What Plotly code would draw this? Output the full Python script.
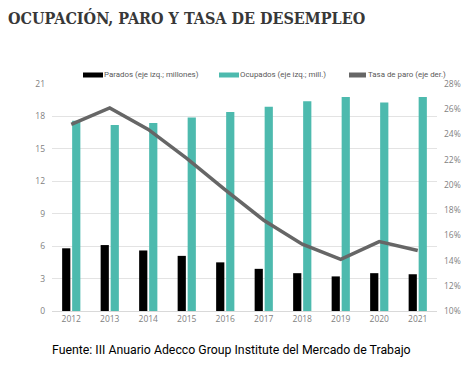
import plotly.graph_objects as go

years = ["2012", "2013", "2014", "2015", "2016", "2017", "2018", "2019", "2020", "2021"]
parados = [5.8, 6.1, 5.6, 5.1, 4.5, 3.9, 3.5, 3.2, 3.5, 3.4]
ocupados = [17.6, 17.2, 17.4, 17.9, 18.4, 18.9, 19.4, 19.8, 19.3, 19.8]
tasa = [24.8, 26.1, 24.4, 22.1, 19.6, 17.2, 15.3, 14.1, 15.5, 14.8]
names = ["Parados (eje izq.; millones)", "Ocupados (eje izq.; mill.)", "Tasa de paro (eje der.)"]

title = "OCUPACIÓN, PARO Y TASA DE DESEMPLEO"
source = "Fuente: III Anuario Adecco Group Institute del Mercado de Trabajo"

BLACK, TEAL, GREY = "#000000", "#4DBAAE", "#666666"

fig = go.Figure()
fig.add_trace(go.Bar(x=years, y=parados, name=names[0],
                     marker=dict(color=BLACK, line=dict(width=0))))
fig.add_trace(go.Bar(x=years, y=ocupados, name=names[1],
                     marker=dict(color=TEAL, line=dict(width=0))))
fig.add_trace(go.Scatter(x=years, y=tasa, name=names[2], yaxis="y2",
                         mode="lines", line=dict(color=GREY, width=3.5)))

tickfont = dict(family="Open Sans, sans-serif", size=8.5, color="#7f7f7f")

# page is offset by the 8px body margin; plot area on page: x 52..437, y 84..311
OFF = 8
PL, PT, PW, PH = 52, 84, 385, 227
LY = 75  # legend row centre (page px)


def px(x):
    return (x - PL) / PW


def py(y):
    return (PT + PH - y) / PH


legfont = dict(family="Roboto, sans-serif", size=7.9, color="#595959")
shapes = [
    dict(type="rect", xref="paper", yref="paper", x0=px(83), x1=px(103), y0=py(LY + 2.5), y1=py(LY - 2.5),
         fillcolor=BLACK, line=dict(width=0)),
    dict(type="rect", xref="paper", yref="paper", x0=px(219), x1=px(239), y0=py(LY + 2.5), y1=py(LY - 2.5),
         fillcolor=TEAL, line=dict(width=0)),
    dict(type="line", xref="paper", yref="paper", x0=px(349), x1=px(366), y0=py(LY), y1=py(LY),
         line=dict(color=GREY, width=5)),
]
annotations = [
    dict(text=names[0], x=px(104), y=py(LY), xref="paper", yref="paper", showarrow=False,
         xanchor="left", yanchor="middle", font=legfont, xshift=-2),
    dict(text=names[1], x=px(240), y=py(LY), xref="paper", yref="paper", showarrow=False,
         xanchor="left", yanchor="middle", font=legfont, xshift=-2),
    dict(text=names[2], x=px(368), y=py(LY), xref="paper", yref="paper", showarrow=False,
         xanchor="left", yanchor="middle", font=legfont, xshift=-2),
    dict(text=title, x=px(OFF), y=py(OFF), xref="paper", yref="paper",
         showarrow=False, xanchor="left", yanchor="top", xshift=-2, yshift=2,
         font=dict(family="DejaVu Serif Condensed, DejaVu Serif, serif", size=16,
                   color="#383838", weight="bold")),
    dict(text=source, x=px(52), y=py(341), xref="paper", yref="paper",
         showarrow=False, xanchor="left", yanchor="top", xshift=-2,
         font=dict(family="Roboto, sans-serif", size=12.3, color="#000000")),
]

fig.update_layout(
    width=476 - OFF, height=368 - OFF,
    margin=dict(l=PL - OFF, r=476 - (PL + PW), t=PT - OFF, b=368 - (PT + PH)),
    paper_bgcolor="white", plot_bgcolor="white",
    barmode="group", bargap=0.48, bargroupgap=0.18,
    showlegend=False,
    xaxis=dict(type="category", showgrid=False, showline=True, linecolor="#d9d9d9",
               ticks="", tickfont=tickfont),
    yaxis=dict(range=[0, 21], dtick=3, showgrid=True, gridcolor="#e3e3e3",
               zeroline=False, ticks="", tickfont=tickfont, ticklabelstandoff=6),
    yaxis2=dict(range=[10, 28], dtick=2, overlaying="y", side="right", showgrid=False,
                ticksuffix="%", zeroline=False, ticks="", tickfont=tickfont,
                ticklabelstandoff=6),
    shapes=shapes,
    annotations=annotations,
)

fig.write_html("out.html")
